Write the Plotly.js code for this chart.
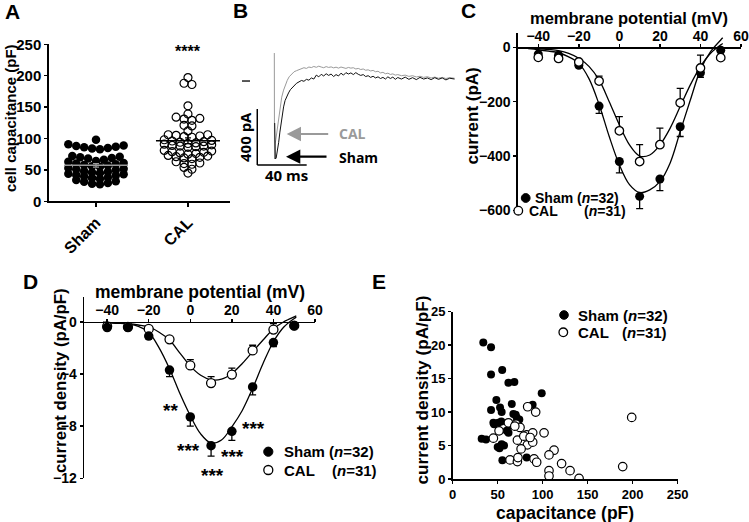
<!DOCTYPE html>
<html><head><meta charset="utf-8">
<script src="https://cdn.plot.ly/plotly-3.0.1.min.js"></script>
<style>html,body{margin:0;padding:0;background:#fff}#chart{width:749px;height:522px}</style>
</head><body><div id="chart"></div><script>
const W = 749, H = 522;
const px = x => x / W, py = y => 1 - y / H;
const FONT = 'Liberation Sans, Arial, Helvetica, sans-serif';
const BFONT = 'Open Sans, Liberation Sans, sans-serif';

// ---------- Panel A: cell capacitance (pF) ----------
const groupsA = ['Sham', 'CAL'];
const capSham = [27,28,29,31,32,34, 36,37,38,40,41,42,43,44, 45,46,47,48,50,51,52,53,
  55,56,57,58,59,60,61,63, 64,66,68,69,70,71,72, 83,84,85,86,87,88,89,91, 98];
const capCAL = [45, 51,54, 59,60,61,63, 68,69,70,71,72,73, 75,76,77,78,79,80,81,
  86,87,88,88,89,90,91, 92,93,94,95,96,97,98, 102,103,104,105,106,106, 112, 120,121,
  129,131,132,134, 139, 152, 186,188, 197];
const starsA = '****';

// ---------- Panel B: current traces ----------
const timeCAL = [0,0.15,0.6,1.2,2,3,4,5,6,7.5,9,10.5,12,14,16,18,20,22,24,26,28,30,32,34,36,38,40,42,44,46,48,50,52,54,56,58,60,62,64,66,68,70,72,74,76,78,80,82,84,86,88,90,92,94,96,98,100,103,106,109,112,115,118,121,124,127,130,133,136,139,142,146];
const currentTraceCAL = [200,-557,-450,-420,-370,-300,-230,-165,-115,-65,-25,5,30,52,66,74,82,88,95,90,100,96,104,98,106,100,95,103,97,101,94,99,92,100,95,90,97,92,95,86,90,82,86,77,80,72,76,66,70,58,62,52,56,47,51,42,46,38,42,33,38,29,34,26,31,22,28,20,26,18,24,20];
const timeSham = [0.3,0.8,1.5,2.5,3.5,4.5,5.5,6.5,7.5,8.7,10,11.5,13,14.5,16,18,20,22,24,26,28,30,32,34,36,38,40,42,44,46,48,50,52,54,56,58,60,62,64,66,68,70,72,74,76,78,80,82,84,86,88,90,92,94,96,98,100,103,106,109,112,115,118,121,124,127,130,133,136,139,142,146];
const currentTraceSham = [-300,-557,-550,-505,-440,-365,-295,-235,-185,-140,-110,-85,-62,-48,-32,-16,-6,4,-2,12,6,22,14,42,30,48,36,52,40,50,32,46,36,56,42,60,50,58,46,60,48,40,46,32,38,26,34,22,30,18,26,14,30,18,28,12,25,14,28,12,24,10,26,14,22,10,24,12,22,8,20,14];
const scaleBarMs = 40, scaleBarPA = 400;

// ---------- Panel C: current (pA) vs membrane potential ----------
const voltage = [-40,-30,-20,-10,0,10,20,30,40,50];
const currentSham = [-25,-29,-66,-216,-420,-548,-484,-292,-94,-11];
const currentShamErr = [4,4,8,27,42,45,43,36,16,5];
const currentCAL = [-37,-41,-54,-124,-307,-420,-358,-204,-76,-38];
const currentCALErr = [4,4,6,18,52,62,61,53,47,5];
const fitVoltage = [-45,-40,-35,-30,-25,-20,-15,-10,-5,0,5,10,15,20,25,30,35,40,45,50,51];
const fitCurrentSham = [-5,-9,-14,-20,-35,-59,-115,-210,-328,-432,-505,-534,-524,-494,-426,-310,-194,-83,-16,27,35];
const fitCurrentCAL = [-3,-5,-8,-12,-22,-40,-70,-120,-200,-285,-359,-400,-396,-359,-298,-218,-138,-71,-22,9,14];

// ---------- Panel D: current density (pA/pF) ----------
const densitySham = [-0.45,-0.45,-1.1,-3.7,-7.3,-9.5,-8.4,-5.0,-1.6,-0.3];
const densityShamErr = [0.1,0.1,0.15,0.5,0.7,0.8,0.7,0.6,0.3,0.1];
const densityCAL = [-0.35,-0.4,-0.55,-1.35,-3.35,-4.7,-4.05,-2.2,-0.6,-0.3];
const densityCALErr = [0.1,0.1,0.1,0.15,0.45,0.5,0.5,0.4,0.45,0.1];
const fitDVoltage = [-42,-40,-35,-30,-25,-20,-15,-10,-5,0,5,10,15,20,25,30,35,40,45,50,51];
const fitDensitySham = [-0.05,-0.08,-0.12,-0.18,-0.35,-0.8,-2.0,-3.6,-5.5,-7.2,-8.6,-9.3,-9.07,-8.05,-6.8,-5.1,-3.2,-1.53,-0.4,0.25,0.35];
const fitDensityCAL = [-0.03,-0.05,-0.09,-0.15,-0.25,-0.4,-0.8,-1.4,-2.4,-3.4,-4.1,-4.45,-4.4,-3.96,-3.2,-2.3,-1.4,-0.55,0.0,0.38,0.45];

// ---------- Panel E: current density vs capacitance ----------
const capEsham = [34,42.6,42.6,55,61.9,68.5,98.9,48.5,42.6,52.6,54.4,65.6,67.4,71,88.8,45.2,50.7,54,74,32.2,37,62,66,50,54.4,52,55.2,82.2,70,57,60,46];
const densEsham = [20.4,19.7,15.6,16.3,14.4,14.5,12.8,11.8,10.3,10.7,10.0,11.2,9.7,9.2,11.1,8.4,8.4,8.6,8.9,6.0,5.9,6.9,8.0,4.8,5.2,4.6,2.8,3.2,9.6,5.0,7.2,8.2];
const capEcal = [83.3,92.2,198.9,188.9,45.2,51.5,61.9,70.4,74.8,82.2,88.9,101.5,71.9,83,88.9,76,112.6,107,63.7,71.9,72.5,90.4,93.3,121,130.4,107,107,140.4,79,86,69];
const densEcal = [10.8,10.0,9.2,1.85,6.1,7.2,8.4,8.2,7.7,6.6,6.9,6.9,5.8,5.1,5.5,4.5,4.3,3.6,2.85,2.6,3.2,3.0,2.5,2.3,1.25,1.25,0.45,0.1,6.4,6.2,7.9];

// ---------- helpers ----------
function f(size, color, family) { return {family: family || FONT, size: size, color: color || '#000', weight: 'bold'}; }
function ax(o) {
  return Object.assign({
    showline: true, linecolor: '#000', linewidth: 1.7, ticks: 'outside', ticklen: 4,
    tickwidth: 1.5, tickcolor: '#000', showgrid: false, zeroline: false, fixedrange: true,
    tickfont: f(14)
  }, o);
}
function ann(text, x, y, o) {
  return Object.assign({text: text, x: px(x), y: py(y), xref: 'paper', yref: 'paper',
    showarrow: false, xanchor: 'center', yanchor: 'middle', font: f(17)}, o || {});
}
function dot(cx, cy, r, filled) {
  return {type: 'circle', xref: 'paper', yref: 'paper', x0: px(cx - r), x1: px(cx + r),
    y0: py(cy + r), y1: py(cy - r), line: {color: '#000', width: filled ? 1 : 1.3},
    fillcolor: filled ? '#000' : '#fff'};
}
const mean = a => a.reduce((s, v) => s + v, 0) / a.length;
const sem = a => { const m = mean(a); return Math.sqrt(a.reduce((s, v) => s + (v - m) * (v - m), 0) / (a.length - 1)) / Math.sqrt(a.length); };

// Prism-like column scatter: bin by value, spread each row symmetrically (lowest in centre)
function columnScatter(values, centre, origin, binW, step) {
  const bins = {};
  values.forEach(v => { const k = Math.floor((v - origin) / binW); (bins[k] = bins[k] || []).push(v); });
  const xs = [], ys = [];
  Object.keys(bins).forEach(k => {
    const r = bins[k].slice().sort((a, b) => a - b), n = r.length;
    const slots = []; for (let i = 0; i < n; i++) slots.push(i - (n - 1) / 2);
    slots.sort((a, b) => Math.abs(a) - Math.abs(b) || b - a);
    r.forEach((v, i) => { xs.push(centre + slots[i] * step); ys.push(v); });
  });
  return {xs, ys};
}

// Panel A geometry
const A_X0 = 49, A_X1 = 230, A_RANGE = [-0.511, 1.457];
const pxPerUnitA = (A_X1 - A_X0) / (A_RANGE[1] - A_RANGE[0]);
const stepA = 7.9 / pxPerUnitA;
const swSham = columnScatter(capSham, 0, 25.5, 9.5, stepA);
const swCAL = columnScatter(capCAL, 1, 41, 8.5, stepA);
const mSham = mean(capSham), mCAL = mean(capCAL);
const halfLine = 32 / pxPerUnitA;

const traces = [
  // A
  {x: swSham.xs, y: swSham.ys, xaxis: 'x', yaxis: 'y', type: 'scatter', mode: 'markers',
   marker: {symbol: 'circle', size: 8.5, color: '#000'}},
  {x: swCAL.xs, y: swCAL.ys, xaxis: 'x', yaxis: 'y', type: 'scatter', mode: 'markers',
   marker: {symbol: 'circle-open', size: 8, color: '#000', line: {width: 1.2, color: '#000'}}},
  {x: [0 - halfLine, 0 + halfLine], y: [mSham, mSham], xaxis: 'x', yaxis: 'y', mode: 'lines',
   line: {color: '#9a9a9a', width: 1.5}},
  {x: [0], y: [mSham], xaxis: 'x', yaxis: 'y', mode: 'markers', marker: {size: 1, color: 'rgba(0,0,0,0)'},
   error_y: {type: 'data', array: [sem(capSham)], color: '#9a9a9a', thickness: 1.3, width: 3}},
  {x: [1 - halfLine, 1 + halfLine], y: [mCAL, mCAL], xaxis: 'x', yaxis: 'y', mode: 'lines',
   line: {color: '#000', width: 1.5}},
  {x: [1], y: [mCAL], xaxis: 'x', yaxis: 'y', mode: 'markers', marker: {size: 1, color: 'rgba(0,0,0,0)'},
   error_y: {type: 'data', array: [sem(capCAL)], color: '#000', thickness: 1.3, width: 3}},
  // B
  {x: timeCAL, y: currentTraceCAL, xaxis: 'x2', yaxis: 'y2', mode: 'lines', line: {color: '#9a9a9a', width: 1}},
  {x: timeSham, y: currentTraceSham, xaxis: 'x2', yaxis: 'y2', mode: 'lines', line: {color: '#111', width: 1}},
  // C
  {x: fitVoltage, y: fitCurrentSham, xaxis: 'x3', yaxis: 'y3', mode: 'lines', line: {color: '#000', width: 1.3, shape: 'spline'}},
  {x: fitVoltage, y: fitCurrentCAL, xaxis: 'x3', yaxis: 'y3', mode: 'lines', line: {color: '#000', width: 1.3, shape: 'spline'}},
  {x: voltage, y: currentSham, xaxis: 'x3', yaxis: 'y3', mode: 'markers',
   marker: {symbol: 'circle', size: 9, color: '#000'},
   error_y: {type: 'data', symmetric: false, array: voltage.map(() => 0), arrayminus: currentShamErr, color: '#000', thickness: 1.3, width: 3.5}},
  {x: voltage, y: currentCAL, xaxis: 'x3', yaxis: 'y3', mode: 'markers',
   marker: {symbol: 'circle', size: 8.5, color: '#fff', line: {color: '#000', width: 1.3}},
   error_y: {type: 'data', symmetric: false, array: currentCALErr, arrayminus: voltage.map(() => 0), color: '#000', thickness: 1.3, width: 3.5}},
  // D
  {x: fitDVoltage, y: fitDensitySham, xaxis: 'x4', yaxis: 'y4', mode: 'lines', line: {color: '#000', width: 1.3, shape: 'spline'}},
  {x: fitDVoltage, y: fitDensityCAL, xaxis: 'x4', yaxis: 'y4', mode: 'lines', line: {color: '#000', width: 1.3, shape: 'spline'}},
  {x: voltage, y: densityCAL, xaxis: 'x4', yaxis: 'y4', mode: 'markers',
   marker: {symbol: 'circle', size: 9, color: '#fff', line: {color: '#000', width: 1.3}},
   error_y: {type: 'data', symmetric: false, array: densityCALErr, arrayminus: voltage.map(() => 0), color: '#000', thickness: 1.3, width: 3.5}},
  {x: voltage, y: densitySham, xaxis: 'x4', yaxis: 'y4', mode: 'markers',
   marker: {symbol: 'circle', size: 9.5, color: '#000'},
   error_y: {type: 'data', symmetric: false, array: voltage.map(() => 0), arrayminus: densityShamErr, color: '#000', thickness: 1.3, width: 3.5}},
  // E
  {x: capEsham, y: densEsham, xaxis: 'x5', yaxis: 'y5', mode: 'markers',
   marker: {symbol: 'circle', size: 8, color: '#000'}},
  {x: capEcal, y: densEcal, xaxis: 'x5', yaxis: 'y5', mode: 'markers',
   marker: {symbol: 'circle', size: 8.5, color: '#fff', line: {color: '#000', width: 1.2}}}
];

const layout = {
  width: W, height: H, margin: {l: 0, r: 0, t: 0, b: 0},
  paper_bgcolor: '#fff', plot_bgcolor: 'rgba(0,0,0,0)', showlegend: false,
  font: {family: FONT, color: '#000', weight: 'bold'},
  // A
  xaxis: ax({domain: [px(A_X0), px(A_X1)], range: A_RANGE, tickvals: [0, 1], ticktext: groupsA,
    tickangle: -45, anchor: 'y', tickfont: f(16)}),
  yaxis: ax({domain: [py(201.3), py(44.3)], range: [0, 250], tickvals: [0, 50, 100, 150, 200, 250],
    anchor: 'x', ticklen: 3, tickfont: f(15)}),
  // B (invisible)
  xaxis2: {domain: [px(240), px(460)], range: [-27.8, 150.4], visible: false, fixedrange: true, anchor: 'y2'},
  yaxis2: {domain: [py(180), py(40)], range: [-707, 293], visible: false, fixedrange: true, anchor: 'x2'},
  // C
  xaxis3: ax({domain: [px(518), px(741)], range: [-50, 60], tickvals: [-40, -20, 0, 20, 40, 60],
    anchor: 'free', position: py(47.3), side: 'top', ticklen: 3, ticklabelstandoff: -2}),
  yaxis3: ax({domain: [py(210.5), py(33)], range: [-600, 52.6], tickvals: [0, -200, -400, -600],
    anchor: 'x3', ticklen: 3}),
  // D
  xaxis4: ax({domain: [px(84.3), px(315)], range: [-51, 60], tickvals: [-40, -20, 0, 20, 40, 60],
    anchor: 'free', position: py(321.7), side: 'top', ticklen: 3, ticklabelstandoff: -2}),
  yaxis4: ax({domain: [py(478.3), py(296.7)], range: [-12, 1.92], tickvals: [0, -4, -8, -12],
    anchor: 'x4', ticklen: 3}),
  // E
  xaxis5: ax({domain: [px(452.7), px(677.7)], range: [0, 250], tickvals: [0, 50, 100, 150, 200, 250],
    anchor: 'y5', ticklen: 3, tickfont: f(13)}),
  yaxis5: ax({domain: [py(479), py(311.7)], range: [0, 25], tickvals: [0, 5, 10, 15, 20, 25],
    anchor: 'x5', ticklen: 3, tickfont: f(13)}),
  shapes: [
    // B scale bars and zero marker
    {type: 'line', xref: 'x2', yref: 'y2', x0: -13.8, x1: -13.8, y0: -600, y1: -600 + scaleBarPA, line: {color: '#000', width: 1.5}},
    {type: 'line', xref: 'x2', yref: 'y2', x0: -13.8, x1: -13.8 + scaleBarMs, y0: -600, y1: -600, line: {color: '#000', width: 1.5}},
    {type: 'line', xref: 'x2', yref: 'y2', x0: -26.2, x1: -19.7, y0: 0, y1: 0, line: {color: '#000', width: 1.3}},
    // legends
    dot(525.7, 198, 4.4, true), dot(518.3, 210.7, 4.3, false),
    dot(268.3, 451.7, 4.6, true), dot(268.3, 470, 4.5, false),
    dot(564, 315, 4.3, true), dot(563.3, 332.3, 4.3, false)
  ],
  annotations: [
    // panel letters
    ann('A', 12, 12, {font: f(21)}),
    ann('B', 241, 11, {font: f(21)}),
    ann('C', 469, 10, {font: f(21)}),
    ann('D', 31, 281, {font: f(21)}),
    ann('E', 379, 281, {font: f(21)}),
    // A
    ann('cell capacitance (pF)', 10, 118, {textangle: -90, font: f(15)}),
    ann(starsA, 188, 52, {font: f(16)}),
    // B
    ann('400 pA', 245, 137, {textangle: -90, font: f(15, '#000', BFONT)}),
    ann('40 ms', 286, 175, {font: f(15, '#000', BFONT)}),
    ann('CAL', 337, 134, {xanchor: 'left', font: f(14, '#9a9a9a', BFONT)}),
    ann('Sham', 337, 157, {xanchor: 'left', font: f(14, '#000', BFONT)}),
    {text: '', x: px(286.7), y: py(134), xref: 'paper', yref: 'paper', showarrow: true, ax: 43, ay: 0,
     arrowcolor: '#9a9a9a', arrowwidth: 2.2, arrowhead: 2, arrowsize: 1.3},
    {text: '', x: px(286), y: py(156.7), xref: 'paper', yref: 'paper', showarrow: true, ax: 42, ay: 0,
     arrowcolor: '#000', arrowwidth: 2.2, arrowhead: 2, arrowsize: 1.3},
    // C
    ann('membrane potential (mV)', 628.5, 18, {font: f(16.5)}),
    ann('current (pA)', 471.5, 116, {textangle: -90}),
    ann('Sham (<i>n</i>=32)', 533, 198, {xanchor: 'left', font: f(14)}),
    ann('CAL', 526.7, 210.7, {xanchor: 'left', font: f(14)}),
    ann('(<i>n</i>=31)', 581.7, 210.7, {xanchor: 'left', font: f(14)}),
    // D
    ann('membrane potential (mV)', 200, 292, {font: f(17.5)}),
    ann('current density (pA/pF)', 60, 381, {textangle: -90, font: f(16.8)}),
    ann('**', 170, 410, {font: f(19)}), ann('***', 188, 450, {font: f(19)}), ann('***', 212, 475, {font: f(19)}),
    ann('***', 232, 456, {font: f(19)}), ann('***', 253, 428, {font: f(19)}),
    ann('Sham (<i>n</i>=32)', 282, 451.7, {xanchor: 'left', font: f(15)}),
    ann('CAL', 282, 470, {xanchor: 'left', font: f(15)}),
    ann('(<i>n</i>=31)', 330, 470, {xanchor: 'left', font: f(15)}),
    // E
    ann('capacitance (pF)', 565, 512.5, {font: f(17.5)}),
    ann('current density (pA/pF)', 421.5, 390, {textangle: -90, font: f(17.2)}),
    ann('Sham (<i>n</i>=32)', 576, 315, {xanchor: 'left', font: f(15)}),
    ann('CAL', 576, 332.3, {xanchor: 'left', font: f(15)}),
    ann('(<i>n</i>=31)', 620, 332.3, {xanchor: 'left', font: f(15)})
  ]
};

Plotly.newPlot('chart', traces, layout, {staticPlot: true, displayModeBar: false});
</script></body></html>
